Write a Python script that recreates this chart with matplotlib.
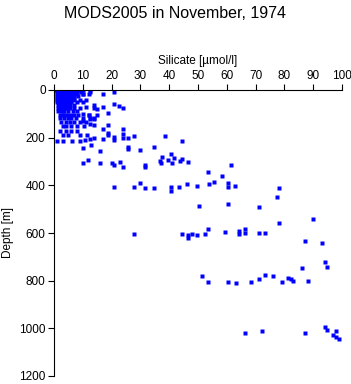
import matplotlib
matplotlib.use("Agg")
import matplotlib.pyplot as plt

plt.rcParams['font.family'] = ['Liberation Sans', 'DejaVu Sans']

# dense near-surface cluster (low silicate)
cluster_si = [0.5, 1, 1.5, 2, 2.5, 3, 3.5, 4, 4.5, 5, 5.5, 6, 6.5, 7, 7.5, 8, 9, 10, 12.5,
              1, 1.5, 2, 2.5, 3, 3.5, 4, 4.5, 5, 5.5, 6, 6.5, 7, 8, 9.5,
              1, 1.5, 2, 2.5, 3, 3.5, 4, 4.5, 5, 5.5, 6, 7, 8, 10.2, 12,
              1, 1.5, 2, 2.5, 3, 3.5, 4, 4.5, 5, 6, 7, 8.5,
              1, 1.5, 2, 2.5, 3, 3.5, 4, 5, 5.5, 6, 7,
              1, 1.5, 2, 2.5, 3, 4, 4.5, 5, 6, 7, 9, 11,
              1, 2, 2.5, 3, 4, 5, 6, 8, 10,
              1.5, 2, 2.5, 3.5, 4, 4.5, 5.5, 7,
              1.5, 2.5, 3.5, 4.5, 5.5, 7, 9, 14,
              1.5, 2.5, 3, 3.5, 5, 6.5, 8,
              2, 3, 4, 5, 6, 7, 8.5, 12, 15,
              2, 3.5, 5, 6, 7.5, 10, 12.5, 14,
              2.5, 4, 5.5, 7, 9, 11,
              3, 4, 6, 8, 10.5,
              2, 4, 6, 8,
              3, 5, 9,
              1.1, 3.2, 6.1, 9]
cluster_z = [0] * 19 + [8] * 15 + [16] * 15 + [25] * 12 + [33] * 11 + [42] * 12 + \
            [52] * 9 + [62] * 8 + [75] * 8 + [90] * 7 + [105] * 9 + [118] * 8 + \
            [133] * 6 + [150] * 5 + [170] * 4 + [190] * 3 + [214] * 4

# scattered casts
scatter_si = [20.8, 16.9, 12.5, 10.2, 20.8, 22.7, 24.1, 16.9, 15, 18.9, 14, 11,
              12.3, 10, 10.2, 12.5, 14, 12.5, 14, 18.9, 16.9, 23.9, 23.9, 23.9,
              20.8, 20.8, 18.9, 18.9, 16.9, 14, 12.5, 10.8, 11.6, 25.8, 27.9,
              25.8, 25.8, 29.8, 16, 10.2, 13, 38.7, 44.6, 34.7,
              10.2, 11.9, 16, 20, 20.8, 22.9, 24.1, 31.7, 31.7, 36.7, 37.2, 37.6,
              39.7, 40.7, 41.7, 40.8, 43.9, 44.6, 46.6, 61.5, 53.6, 58.4,
              20.8, 27.9, 29.9, 31.7, 34.8, 40.7, 40.7, 43.5, 46.1, 49.5, 53.7,
              55.4, 60.5, 60.5, 62.8, 78.2, 77.3, 60.5, 50.5, 71.3, 78.2, 90,
              27.8, 44.6, 46.6, 46.6, 47.8, 49.5, 52.5, 53.6, 59.5, 64.3, 64.3,
              66.4, 66.4, 71.3, 73.4, 87.2, 93.1, 94, 94.9, 86.2,
              51.5, 53.6, 60.5, 63.3, 68.3, 71.3, 73.4, 76.2, 79.3, 81.3, 82.2,
              83.1, 88.1,
              66.4, 72.3, 87, 94, 94.9, 97.9, 97, 97.9, 99.1]
scatter_z = [8, 18, 7, 18, 57, 67, 77, 71, 81, 98, 63, 71,
             105, 102, 130, 123, 123, 144, 147, 147, 165, 165, 186, 200,
             197, 209, 179, 189, 205, 200, 205, 210, 189, 203, 195,
             240, 248, 253, 256, 245, 230, 195, 216, 240,
             305, 295, 306, 308, 316, 302, 321, 316, 325, 298, 308, 280,
             295, 268, 286, 308, 296, 291, 301, 315, 346, 361,
             405, 408, 391, 413, 412, 405, 424, 408, 396, 402, 393,
             388, 389, 408, 403, 413, 450, 480, 487, 490, 560, 543,
             603, 606, 609, 623, 604, 609, 606, 585, 594, 592, 604,
             585, 602, 602, 599, 632, 640, 720, 741, 745,
             779, 805, 804, 808, 804, 795, 776, 780, 805, 790, 795,
             800, 800,
             1021, 1010, 1018, 994, 1005, 1010, 1027, 1035, 1043]

x_ticks = [0, 10, 20, 30, 40, 50, 60, 70, 80, 90, 100]
y_ticks = [0, 200, 400, 600, 800, 1000, 1200]

fig = plt.figure(figsize=(3.51, 3.84), dpi=100)
ax = fig.add_axes([54 / 351, 1 - 376 / 384, 288 / 351, 286 / 384])

ax.plot(cluster_si, cluster_z, 's', color='#0000ff', ms=2.5, mec='none')
ax.plot(scatter_si, scatter_z, 's', color='#0000ff', ms=2.5, mec='none')

ax.set_xlim(0, 100)
ax.set_ylim(1200, 0)
ax.set_xticks(x_ticks)
ax.set_yticks(y_ticks)
ax.xaxis.tick_top()
ax.xaxis.set_label_position('top')
ax.spines['right'].set_visible(False)
ax.spines['bottom'].set_visible(False)
ax.tick_params(direction='out', length=4, width=0.8, labelsize=8.5, pad=2)
ax.set_xlabel('Silicate [µmol/l]', fontsize=8.5, labelpad=4)
ax.set_ylabel('Depth [m]', fontsize=8.5, labelpad=4)

fig.text(0.5, 1 - 13 / 384, 'MODS2005 in November, 1974', ha='center', va='center', fontsize=11.5)

fig.savefig('out.png', dpi=100)
